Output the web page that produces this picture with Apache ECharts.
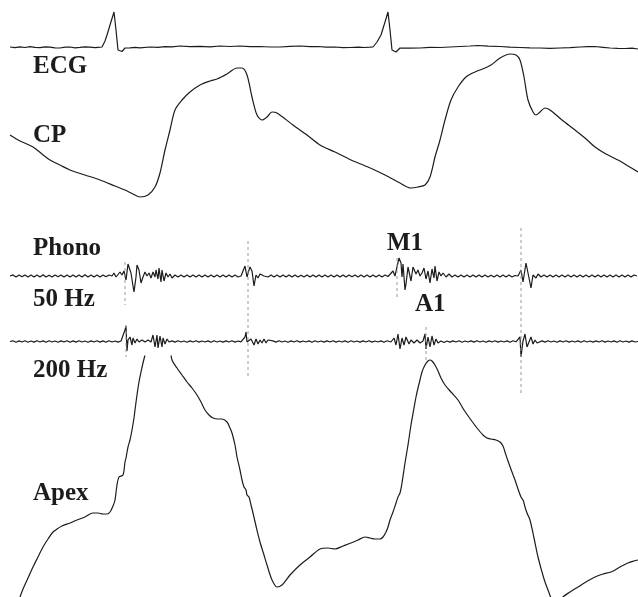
<!DOCTYPE html>
<html>
<head>
<meta charset="utf-8">
<script src="https://cdn.jsdelivr.net/npm/echarts@6/dist/echarts.min.js"></script>
<style>html,body{margin:0;padding:0;background:#fff;}#chart{width:638px;height:597px;}</style>
</head>
<body>
<div id="chart"></div>
<script>
// Time axis: sample position across the strip; amplitude axis: vertical deflection (downward positive)
var traceLabels = ['ECG', 'CP', 'Phono', '50 Hz', '200 Hz', 'Apex'];
var soundLabels = ['M1', 'A1'];

var ecgTrace = [[10,47],[15,47.6],[20,46.8],[25,47.5],[30,46.6],[35,47.4],[40,47.6],[45,46.9],[50,47.2],[55,47.8],[60,48],[65,47.2],[70,47],[75,47.8],[80,47.4],[85,46.9],[90,47.2],[95,47.7],[98,47.4],[102,47],[105,41],[107,35],[110,25],[114,12],[116,30],[118,50],[120,52],[122,51.5],[125,48],[130,47.8],[135,47.4],[140,47.8],[150,47],[158,47.4],[165,46.6],[172,46.9],[180,46],[190,46.6],[200,46.4],[210,46.8],[220,46],[230,46.5],[240,46],[250,46.7],[260,46.5],[270,47],[280,47],[290,46.4],[300,46],[310,46.7],[318,46.5],[326,47.1],[335,47],[343,47.6],[350,47.5],[358,47.1],[365,47.5],[370,47.2],[373,47],[377,42],[381,35],[385,22],[388,12],[390,30],[392,50],[394,52],[396,52],[400,48],[410,48.2],[420,48],[430,47.4],[440,47.5],[450,47],[460,46.5],[470,46],[478,45.5],[488,46.2],[500,46.5],[510,47.2],[520,47.5],[530,47.8],[540,48],[550,48.4],[560,48],[570,47.6],[580,47],[588,46.7],[595,46.5],[603,47.3],[610,48],[618,48.4],[625,48.5],[632,48.2],[638,49]];

var cpTrace = [[10,135],[20,141],[33,147],[42,154],[50,160],[60,165],[70,170],[85,175],[100,180],[115,186],[125,190],[133,194],[140,197],[148,195],[155,187],[160,173],[165,150],[170,130],[175,110],[182,100],[190,92],[200,85],[210,81],[217,79],[227,74],[237,68],[242,68],[247,75],[252,97],[257,115],[262,120],[267,117],[272,112],[277,113],[293,125],[307,135],[320,145],[335,152],[351,160],[368,167],[385,175],[400,183],[411,188],[418,187],[425,185],[430,177],[435,157],[440,140],[445,120],[451,100],[458,87],[466,77],[475,72],[485,68],[491,65],[500,58],[510,54],[516,55],[520,60],[524,77],[528,100],[533,112],[536,115],[540,112],[545,108],[550,110],[562,120],[575,130],[585,138],[595,147],[606,154],[618,160],[628,166],[638,172]];

var phono50Trace = [[10,276],[13,274.9],[16,277],[19,275],[22,276.8],[25,274.9],[28,277],[31,275.1],[34,277.1],[37,275],[40,276.9],[43,274.8],[46,277],[49,275.2],[52,277.1],[55,275],[58,276.8],[61,274.9],[64,277],[67,275],[70,277],[73,275.1],[76,277.1],[79,275],[82,276.9],[85,274.8],[88,277],[91,275],[94,277.1],[97,275.1],[100,277],[103,275],[106,276.8],[109,275],
[112,276],[114,273],[116,277],[118,277],[120,272],[122,275],[124,271],[126,280],[128,264],[129,262],[131,273],[133,286],[134,292],[136,277],[137,265],[139,270],[141,283],[143,277],[145,272],[147,276],[149,273],[151,278],[153,272],[155,277],[156,270],[158,279],[159,268],[161,282],[162,270],[164,281],[166,273],[168,277],[170,274],[172,278],[175,275],[178,277],
[181,275],[184,277],[187,275],[190,277],[193,275],[196,277],[199,275],[202,277],[205,275],[208,277],[211,275],[214,277],[217,275],[220,277],[223,275],[226,277],[229,275],[232,277],[235,275],[238,277],[241,276],
[243,274],[245,266],[247,277],[249,270],[250,267],[252,271],[254,286],[256,275],[258,278],[260,274],[262,272],[264,276],[266,274],[268,277],
[271,275],[274,277],[277,275.1],[280,277],[283,275],[286,276.9],[289,274.9],[292,277.1],[295,275],[298,277],[301,275.2],[304,277],[307,274.9],[310,277],[313,275],[316,277.1],[319,275],[322,276.9],[325,275],[328,277],[331,275.1],[334,277],[337,274.9],[340,277],[343,275],[346,277.1],[349,275],[352,276.8],[355,275],[358,277],[361,275.1],[364,277],[367,275],[370,277.1],[373,274.9],[376,277],[379,275],[382,276.9],[385,275],[388,276.5],
[390,276],[393,271],[395,276],[397,267],[399,258],[401,263],[402,277],[403,264],[405,290],[406,284],[408,267],[411,281],[413,267],[416,274],[418,270],[420,276],[422,273],[424,268],[426,279],[428,271],[430,283],[432,269],[434,278],[435,266],[437,281],[439,272],[441,276],[443,273],[446,277],[449,274],[452,277],
[455,275],[458,277],[461,275],[464,277],[467,275.1],[470,277],[473,275],[476,277.1],[479,274.9],[482,277],[485,275],[488,277],[491,275.2],[494,277],[497,275],[500,276.9],[503,275],[506,277],[509,275],[512,277],[515,275.5],
[518,276],[521,270],[523,282],[526,263],[529,278],[531,288],[533,275],[536,278],[538,274],
[541,277],[544,275],[547,277],[550,275],[553,277.1],[556,275],[559,277],[562,275],[565,276.9],[568,275],[571,277],[574,275.1],[577,277],[580,275],[583,277],[586,275],[589,277],[592,275],[595,277.1],[598,275],[601,277],[604,275],[607,276.9],[610,275],[613,277],[616,275],[619,277],[622,275.1],[625,277],[628,275],[631,277],[634,275],[637,276]];

var phono200Trace = [[10,341.5],[13,340.8],[16,342.2],[19,340.9],[22,342],[25,340.8],[28,342.2],[31,341],[34,342.1],[37,340.8],[40,342],[43,340.9],[46,342.2],[49,340.8],[52,342],[55,341],[58,342.2],[61,340.9],[64,342],[67,340.8],[70,342.2],[73,340.9],[76,342.1],[79,340.8],[82,342],[85,341],[88,342.2],[91,340.9],[94,342],[97,340.8],[100,342.1],[103,340.9],[106,342.2],[109,340.8],[112,342],[115,341],[118,342.1],[121,341],
[123,339],[125,330],[126,326],[127,351],[128,340],[130,337],[132,345],[133,338],[135,343],[137,339],[139,342],[142,340],[145,342],[148,340],[151,342],[153,335],[155,347],[157,335],[158,348],[160,336],[162,347],[163,338],[165,344],[167,339],[169,342],
[172,340.9],[175,342.1],[178,340.8],[181,342],[184,341],[187,342.2],[190,340.9],[193,342],[196,340.8],[199,342.1],[202,341],[205,342],[208,340.9],[211,342.2],[214,340.8],[217,342],[220,341],[223,342.1],[226,340.9],[229,342],[232,340.8],[235,342.1],[238,341],[241,341.8],
[243,341],[245,337],[246,332],[247,342],[249,341],[251,339],[253,337],[254,345],[256,339],[258,344],[260,340],[262,343],[264,339],[266,343],[268,340],[270,342],
[273,340.9],[276,342.1],[279,340.8],[282,342],[285,341],[288,342.2],[291,340.9],[294,342],[297,340.8],[300,342.1],[303,341],[306,342],[309,340.9],[312,342.2],[315,340.8],[318,342],[321,341],[324,342.1],[327,340.9],[330,342],[333,340.8],[336,342.1],[339,341],[342,342],[345,340.9],[348,342.2],[351,340.8],[354,342],[357,341],[360,342.1],[363,340.9],[366,342],[369,340.8],[372,342.1],[375,341],[378,342],[381,340.9],[384,342.2],[387,340.8],[389,341.8],
[391,342],[394,338],[396,345],[398,334],[400,349],[402,338],[404,345],[406,337],[409,344],[411,340],[414,343],[417,340],[420,343],[423,341],[425,334],[426,349],[428,337],[430,347],[432,336],[434,345],[436,339],[438,343],[441,341],[444,342.5],
[447,341],[450,342.1],[453,340.9],[456,342],[459,340.8],[462,342.2],[465,341],[468,342],[471,340.9],[474,342.1],[477,340.8],[480,342],[483,341],[486,342.2],[489,340.9],[492,342],[495,340.8],[498,342.1],[501,341],[504,342],[507,340.9],[510,342.2],[513,340.8],[516,341.8],
[518,342],[520,337],[521,357],[523,341],[525,334],[527,347],[529,349],[531,337],[533,344],[535,340],[537,343],[539,341],
[542,340.9],[545,342.1],[548,340.8],[551,342],[554,341],[557,342.2],[560,340.9],[563,342],[566,340.8],[569,342.1],[572,341],[575,342],[578,340.9],[581,342.2],[584,340.8],[587,342],[590,341],[593,342.1],[596,340.9],[599,342],[602,340.8],[605,342.1],[608,341],[611,342],[614,340.9],[617,342.2],[620,340.8],[623,342],[626,341],[629,342.1],[632,340.9],[635,342],[638,341.5]];

var apexTrace = [[20,597],[23,589],[28,578],[33,567],[38,557],[43,547],[48,539],[53,532],[57,529],[62,526],[70,523],[77,520],[85,517],[93,513],[98,513],[103,514],[107,514],[110,512],[113,506],[115,500],[117,485],[119,477],[123,475],[125,462],[126,458],[128,447],[130,440],[132,430],[134,418],[135,410],[137,395],[139,382],[141,372],[143,363],[145,355],[150,335],[156,322],[160,320],[165,328],[170,348],[172,360],[177,368],[182,375],[187,382],[192,388],[197,395],[201,402],[205,410],[209,415],[213,418],[218,419],[222,419],[227,422],[230,428],[232,433],[235,445],[237,457],[240,470],[242,480],[244,487],[246,490],[247,495],[249,497],[251,505],[253,513],[256,526],[260,542],[264,555],[267,565],[272,580],[277,587],[282,585],[290,575],[300,565],[310,557],[320,549],[328,548],[335,549],[343,546],[351,543],[358,540],[365,537],[370,538],[375,539],[380,539],[383,537],[386,532],[388,527],[390,520],[393,512],[396,503],[398,497],[400,493],[402,483],[405,463],[408,445],[411,425],[414,408],[416,397],[418,388],[420,380],[422,372],[425,365],[428,361],[430,360],[432,361],[435,365],[438,371],[441,378],[445,385],[451,392],[458,400],[464,410],[471,420],[477,428],[483,435],[487,438],[491,439],[496,440],[500,442],[503,446],[505,452],[508,461],[512,472],[515,480],[518,489],[521,497],[523,500],[524,503],[525,507],[527,513],[530,520],[534,538],[538,557],[542,572],[545,582],[548,590],[551,598],[555,606],[559,604],[563,597],[570,592],[578,587],[586,582],[595,577],[603,574],[611,572],[620,567],[628,563],[634,561],[638,560]];

// faint vertical timing marks: [time, top deflection, bottom deflection]
var timingMarks = [[125,262,305],[126,325,357],[248,241,378],[397,258,300],[426,327,360],[521,228,395]];

var chart = echarts.init(document.getElementById('chart'), null, {renderer: 'canvas'});

var lineColor = '#1c1c1c';
var series = [
  {name: 'ECG', type: 'line', xAxisIndex: 0, yAxisIndex: 0, data: ecgTrace, showSymbol: false, symbol: 'none', lineStyle: {color: lineColor, width: 1.2}},
  {name: 'CP', type: 'line', xAxisIndex: 0, yAxisIndex: 0, data: cpTrace, smooth: 0.3, showSymbol: false, symbol: 'none', lineStyle: {color: lineColor, width: 1.2}},
  {name: 'Phono 50 Hz', type: 'line', xAxisIndex: 0, yAxisIndex: 0, data: phono50Trace, showSymbol: false, symbol: 'none', lineStyle: {color: lineColor, width: 1.2}},
  {name: 'Phono 200 Hz', type: 'line', xAxisIndex: 0, yAxisIndex: 0, data: phono200Trace, showSymbol: false, symbol: 'none', lineStyle: {color: lineColor, width: 1.2}},
  {name: 'Apex', type: 'line', xAxisIndex: 1, yAxisIndex: 1, data: apexTrace, smooth: 0.3, clip: true, showSymbol: false, symbol: 'none', lineStyle: {color: lineColor, width: 1.2}}
];
timingMarks.forEach(function (m) {
  series.push({type: 'line', xAxisIndex: 0, yAxisIndex: 0, data: [[m[0], m[1]], [m[0], m[2]]], showSymbol: false, symbol: 'none', silent: true,
    lineStyle: {color: '#9a9a9a', width: 1, type: [3, 3]}});
});

var labelFont = 'bold 25px "Liberation Serif", "DejaVu Serif", serif';
function label(text, x, y) {
  return {type: 'text', x: x, y: y, silent: true,
    style: {text: text, fill: '#1c1c1c', font: labelFont, textAlign: 'left', textVerticalAlign: 'middle', align: 'left', verticalAlign: 'middle'}};
}

chart.setOption({
  animation: false,
  backgroundColor: '#ffffff',
  grid: [
    {left: 0, top: 0, right: 0, bottom: 0},
    {left: 0, top: 356, right: 0, bottom: 0}
  ],
  xAxis: [
    {type: 'value', gridIndex: 0, min: 0, max: 638, show: false},
    {type: 'value', gridIndex: 1, min: 0, max: 638, show: false}
  ],
  yAxis: [
    {type: 'value', gridIndex: 0, min: 0, max: 597, inverse: true, show: false},
    {type: 'value', gridIndex: 1, min: 356, max: 597, inverse: true, show: false}
  ],
  graphic: [
    label(traceLabels[0], 33, 67),
    label(traceLabels[1], 33, 136),
    label(traceLabels[2], 33, 249),
    label(traceLabels[3], 33, 300),
    label(traceLabels[4], 33, 371),
    label(traceLabels[5], 33, 494),
    label(soundLabels[0], 387, 244),
    label(soundLabels[1], 415, 305)
  ],
  series: series
});
</script>
</body>
</html>
